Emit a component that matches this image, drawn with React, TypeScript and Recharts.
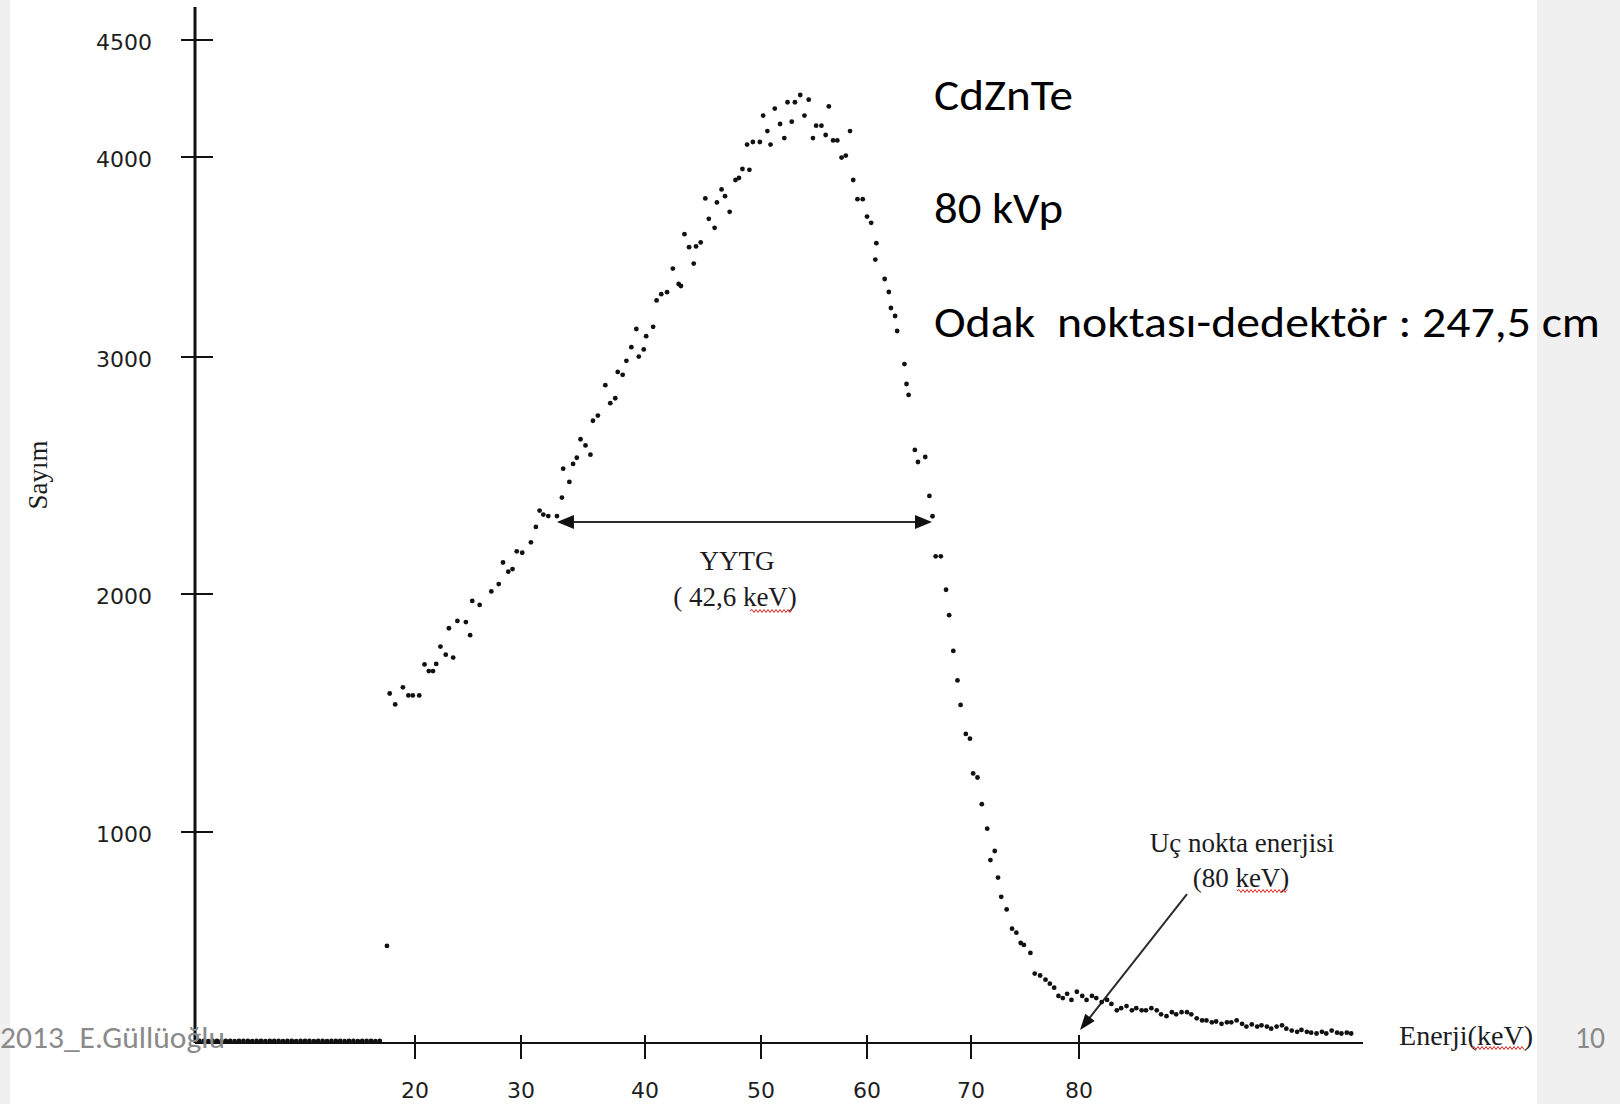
import React from 'react';
import { ScatterChart, Scatter, XAxis, YAxis, ReferenceLine } from 'recharts';

// ---------------- data ----------------
const BASE_KEV = [0.4, 0.8, 1.2, 1.6, 2.0, 2.4, 2.8, 3.2, 3.6, 4.0, 4.4, 4.8, 5.2, 5.6, 6.0, 6.4, 6.8, 7.2, 7.6, 8.0, 8.4, 8.8, 9.2, 9.6, 10.0, 10.4, 10.8, 11.2, 11.6, 12.0, 12.4, 12.8, 13.2, 13.6, 14.0, 14.4, 14.8, 15.2, 15.6, 16.0, 16.4, 16.8];
const BASE_COUNTS = [10, 10, 9, 10, 10, 9, 10, 10, 9, 10, 10, 10, 9, 10, 10, 9, 10, 10, 10, 9, 10, 10, 9, 10, 10, 10, 9, 10, 10, 9, 10, 10, 10, 9, 10, 10, 9, 10, 10, 10, 9, 10];

const RISE_KEV = [17.45, 17.7, 18.2, 18.9, 19.4, 19.8, 20.4, 20.9, 21.3, 21.7, 22.0, 22.4, 22.9, 23.2, 23.6, 24.0, 24.8, 25.2, 25.4, 26.1, 27.2, 27.9, 28.3, 28.8, 29.2, 29.6, 30.1, 30.8, 31.2, 31.5, 31.8, 32.2, 32.9, 33.3, 33.4, 33.9, 34.2, 34.5, 34.8, 35.2, 35.6, 35.8, 36.2, 36.8, 37.2, 37.6, 37.8, 38.2, 38.5, 38.9, 39.3, 39.5, 39.9, 40.1, 40.7, 41.0, 41.4, 41.9, 42.4, 42.9, 43.1, 43.4, 43.8, 44.2, 44.4, 44.8, 45.2, 45.5, 46.0, 46.2, 46.6, 46.9, 47.3, 47.8, 48.1, 48.4, 48.8, 49.0, 49.3, 49.9];
const RISE_COUNTS = [460, 1582, 1536, 1608, 1574, 1574, 1574, 1704, 1676, 1676, 1706, 1779, 1745, 1856, 1733, 1887, 1882, 1827, 1971, 1954, 2011, 2042, 2133, 2094, 2105, 2180, 2174, 2218, 2283, 2352, 2335, 2329, 2329, 2407, 2529, 2473, 2549, 2575, 2653, 2627, 2588, 2731, 2753, 2881, 2805, 2826, 2937, 2925, 2984, 3049, 3140, 3002, 3038, 3104, 3151, 3283, 3314, 3324, 3442, 3365, 3355, 3614, 3549, 3467, 3553, 3573, 3793, 3691, 3646, 3773, 3838, 3804, 3726, 3885, 3895, 3940, 4053, 3936, 4064, 4064];

const PEAK_KEV = [50.2, 50.6, 50.9, 51.3, 51.8, 52.2, 52.5, 52.9, 53.2, 53.7, 54.1, 54.5, 54.9, 55.2, 55.7, 56.1, 56.4, 56.8, 57.2, 57.6, 58.0, 58.4, 58.7, 59.1, 59.6, 60.0, 60.4, 60.8, 60.9];
const PEAK_COUNTS = [4177, 4111, 4053, 4207, 4141, 4081, 4234, 4151, 4234, 4265, 4177, 4245, 4081, 4134, 4134, 4094, 4216, 4071, 4071, 3997, 4006, 4111, 3885, 3789, 3789, 3702, 3671, 3487, 3569];

const FALL_KEV = [61.7, 62.1, 62.3, 62.7, 62.9, 63.6, 63.8, 64.0, 64.6, 64.9, 65.6, 66.0, 66.3, 66.6, 67.1, 67.6, 67.9, 68.3, 68.7, 69.0, 69.5, 69.9, 70.2, 70.6, 71.0, 71.5, 71.8, 72.2, 72.5, 72.8, 73.3, 73.8, 74.2, 74.6, 74.9, 75.5];
const FALL_COUNTS = [3390, 3325, 3245, 3205, 3130, 2970, 2886, 2840, 2608, 2557, 2578, 2414, 2328, 2159, 2159, 2018, 1911, 1761, 1637, 1534, 1412, 1392, 1246, 1229, 1117, 1014, 867, 910, 784, 693, 633, 542, 523, 474, 465, 427];

const TAIL_KEV = [75.9, 76.4, 76.9, 77.3, 77.7, 78.1, 78.5, 78.9, 79.3, 79.8, 80.3, 80.7, 81.2, 81.6, 82.1, 82.6, 83.0, 83.5, 83.9, 84.4, 84.9, 85.3, 85.8, 86.2, 86.7, 87.2, 87.6, 88.1, 88.6, 89.0, 89.5, 90.0, 90.4, 90.9, 91.4, 91.8, 92.3, 92.7, 93.2, 93.7, 94.1, 94.6, 95.1, 95.5, 96.0, 96.5, 96.9, 97.4, 97.8, 98.3, 98.8, 99.2, 99.7, 100.2, 100.6, 101.1, 101.5, 102.0, 102.5, 102.9, 103.4, 103.9, 104.3, 104.8, 105.2];
const TAIL_COUNTS = [329, 320, 300, 281, 262, 223, 213, 233, 204, 243, 223, 204, 223, 213, 194, 204, 185, 155, 165, 175, 155, 165, 155, 155, 165, 155, 136, 127, 146, 136, 146, 146, 136, 117, 107, 107, 98, 102, 91, 98, 98, 107, 91, 78, 88, 78, 84, 78, 68, 78, 84, 68, 59, 53, 62, 53, 49, 45, 53, 45, 59, 49, 45, 49, 45];

const X_TICKS = [20, 30, 40, 50, 60, 70, 80];
const Y_TICKS = [1000, 2000, 3000, 4000, 4500];

// FWHM arrow (keV range at its count level) and end-point arrow
const FWHM_FROM = 32.9;
const FWHM_TO = 66.25;
const FWHM_LEVEL = 2304;
const ENDPOINT_LABEL = { keV: 90.0, counts: 706 };
const ENDPOINT_TIP = { keV: 80.1, counts: 62 };

// ---------------- axis calibration of the scanned figure ----------------
// the original axes are not evenly spaced; map value -> offset along the axis
const X_CAL_KEV = [0, 20, 30, 40, 50, 60, 70, 80, 106.3];
const X_CAL_OFF = [0, 220, 326, 450, 566, 672, 776, 884, 1168];
const Y_CAL_CNT = [0, 1000, 2000, 3000, 4000, 4500, 4641];
const Y_CAL_OFF = [0, 211, 449, 686, 886, 1003, 1036];

function interp(v: number, xs: number[], ys: number[]) {
  let i = 0;
  while (i < xs.length - 2 && v > xs[i + 1]) i++;
  const t = (v - xs[i]) / (xs[i + 1] - xs[i]);
  return ys[i] + t * (ys[i + 1] - ys[i]);
}
const xPos = (k: number) => interp(k, X_CAL_KEV, X_CAL_OFF);
const yPos = (c: number) => interp(c, Y_CAL_CNT, Y_CAL_OFF);

const W = 1620;
const H = 1104;
const PLOT_LEFT = 195;
const PLOT_TOP = 7;
const PLOT_RIGHT = 1363;
const PLOT_BOTTOM = 1043;

function buildPoints() {
  const pts: { x: number; y: number }[] = [];
  const add = (ks: number[], cs: number[]) => ks.forEach((k, i) => pts.push({ x: xPos(k), y: yPos(cs[i]) }));
  add(BASE_KEV, BASE_COUNTS);
  add(RISE_KEV, RISE_COUNTS);
  add(PEAK_KEV, PEAK_COUNTS);
  add(FALL_KEV, FALL_COUNTS);
  add(TAIL_KEV, TAIL_COUNTS);
  return pts;
}
const POINTS = buildPoints();

const xTickVals = X_TICKS.map(xPos);
const yTickVals = Y_TICKS.map(yPos);

const AXIS_FONT = '"DejaVu Sans", Verdana, sans-serif';
const SERIF = '"Liberation Serif", "Times New Roman", serif';
const SLIDE_FONT = 'Carlito, Lato, "Open Sans", sans-serif';

function XTick(props: any) {
  const { x, payload } = props;
  const idx = xTickVals.findIndex((v) => Math.abs(v - payload.value) < 0.01);
  const label = idx >= 0 ? X_TICKS[idx] : '';
  return (
    <g>
      <line x1={x} x2={x} y1={PLOT_BOTTOM - 8} y2={PLOT_BOTTOM + 16} stroke="#111" strokeWidth={2} />
      <text x={x} y={1098} textAnchor="middle" fontFamily={AXIS_FONT} fontSize={22} fill="#1e1e1e">
        {label}
      </text>
    </g>
  );
}

function YTick(props: any) {
  const { y, payload } = props;
  const idx = yTickVals.findIndex((v) => Math.abs(v - payload.value) < 0.01);
  const label = idx >= 0 ? Y_TICKS[idx] : '';
  return (
    <g>
      <line x1={181} x2={213} y1={y} y2={y} stroke="#111" strokeWidth={2} />
      <text x={152} y={y + 10} textAnchor="end" fontFamily={AXIS_FONT} fontSize={22} fill="#1e1e1e">
        {label}
      </text>
    </g>
  );
}

function Dot(props: any) {
  const { cx, cy } = props;
  if (cx == null || cy == null) return <g />;
  return <circle cx={cx} cy={cy} r={2.4} fill="#111" />;
}

function makeArrow(both: boolean, head: number, half: number) {
  return (p: any) => {
    const x1 = Number(p.x1), y1 = Number(p.y1), x2 = Number(p.x2), y2 = Number(p.y2);
    const dx = x2 - x1, dy = y2 - y1;
    const len = Math.hypot(dx, dy) || 1;
    const ux = dx / len, uy = dy / len;
    const nx = -uy, ny = ux;
    const tri = (tx: number, ty: number, dirx: number, diry: number) => {
      const bx = tx - dirx * head, by = ty - diry * head;
      return `${tx},${ty} ${bx + nx * half},${by + ny * half} ${bx - nx * half},${by - ny * half}`;
    };
    const sx = both ? x1 + ux * (head - 2) : x1;
    const sy = both ? y1 + uy * (head - 2) : y1;
    return (
      <g>
        <line x1={sx} y1={sy} x2={x2 - ux * (head - 2)} y2={y2 - uy * (head - 2)} stroke="#2b2b2b" strokeWidth={2} />
        <polygon points={tri(x2, y2, ux, uy)} fill="#111" />
        {both && <polygon points={tri(x1, y1, -ux, -uy)} fill="#111" />}
      </g>
    );
  };
}

function Wavy({ x1, x2, y }: { x1: number; x2: number; y: number }) {
  let d = `M${x1},${y}`;
  let up = true;
  for (let x = x1 + 2; x <= x2; x += 2) {
    d += ` L${x},${up ? y - 1.5 : y + 1.5}`;
    up = !up;
  }
  return <path d={d} stroke="#e02020" strokeWidth={1} fill="none" />;
}

export default function App() {
  return (
    <div style={{ position: 'absolute', left: 0, top: 0, width: W, height: H, background: '#ffffff', overflow: 'hidden' }}>
      <div style={{ position: 'absolute', left: 0, top: 0, width: 10, height: H, background: '#f0f0f0' }} />
      <div style={{ position: 'absolute', left: 1537, top: 0, width: W - 1537, height: H, background: '#f0f0f0' }} />
      <div style={{ position: 'absolute', left: 0, top: 0 }}>
        <ScatterChart
          width={W}
          height={H}
          margin={{ top: PLOT_TOP, left: PLOT_LEFT - 60, right: W - PLOT_RIGHT, bottom: H - PLOT_BOTTOM - 30 }}
        >
          <XAxis
            type="number"
            dataKey="x"
            domain={[0, xPos(106.3)]}
            ticks={xTickVals}
            interval={0}
            height={30}
            allowDataOverflow
            axisLine={{ stroke: '#111', strokeWidth: 2 }}
            tickLine={false}
            tick={(p: any) => <XTick {...p} />}
          />
          <YAxis
            type="number"
            dataKey="y"
            domain={[0, yPos(4641)]}
            ticks={yTickVals}
            interval={0}
            width={60}
            allowDataOverflow
            axisLine={{ stroke: '#111', strokeWidth: 3 }}
            tickLine={false}
            tick={(p: any) => <YTick {...p} />}
          />
          <Scatter data={POINTS} isAnimationActive={false} shape={(p: any) => <Dot {...p} />} />
          <ReferenceLine
            segment={[
              { x: xPos(FWHM_FROM), y: yPos(FWHM_LEVEL) },
              { x: xPos(FWHM_TO), y: yPos(FWHM_LEVEL) },
            ]}
            ifOverflow="visible"
            shape={makeArrow(true, 17, 7)}
          />
          <ReferenceLine
            segment={[
              { x: xPos(ENDPOINT_LABEL.keV), y: yPos(ENDPOINT_LABEL.counts) },
              { x: xPos(ENDPOINT_TIP.keV), y: yPos(ENDPOINT_TIP.counts) },
            ]}
            ifOverflow="visible"
            shape={makeArrow(false, 16, 6)}
          />
        </ScatterChart>
      </div>
      <svg width={W} height={H} style={{ position: 'absolute', left: 0, top: 0, pointerEvents: 'none' }}>
        <text x={934} y={110} fontFamily={SLIDE_FONT} fontSize={44} fill="#000" textLength={139} lengthAdjust="spacingAndGlyphs">CdZnTe</text>
        <text x={934} y={223} fontFamily={SLIDE_FONT} fontSize={44} fill="#000" textLength={129} lengthAdjust="spacingAndGlyphs">80 kVp</text>
        <text x={934} y={337} fontFamily={SLIDE_FONT} fontSize={44} fill="#000" textLength={666} lengthAdjust="spacingAndGlyphs" style={{ whiteSpace: 'pre' }}>Odak  noktası-dedektör : 247,5 cm</text>

        <text x={737} y={570} textAnchor="middle" fontFamily={SERIF} fontSize={27} fill="#1b1b22">YYTG</text>
        <text x={735} y={606} textAnchor="middle" fontFamily={SERIF} fontSize={27} fill="#1b1b22">( 42,6 keV)</text>
        <Wavy x1={750} x2={792} y={611} />

        <text x={1242} y={852} textAnchor="middle" fontFamily={SERIF} fontSize={27} fill="#1b1b22">Uç nokta enerjisi</text>
        <text x={1241} y={887} textAnchor="middle" fontFamily={SERIF} fontSize={27} fill="#1b1b22">(80 keV)</text>
        <Wavy x1={1237} x2={1287} y={891} />

        <text x={1399} y={1045} fontFamily={SERIF} fontSize={27} fill="#1b1b22" textLength={134} lengthAdjust="spacingAndGlyphs">Enerji(keV)</text>
        <Wavy x1={1472} x2={1524} y={1048} />

        <text x={47} y={475} textAnchor="middle" fontFamily={SERIF} fontSize={27} fill="#1b1b22" transform="rotate(-90, 47, 475)">Sayım</text>

        <text x={0} y={1048} fontFamily={SLIDE_FONT} fontSize={30} fill="#8a8a8a" textLength={225} lengthAdjust="spacingAndGlyphs">2013_E.Güllüoğlu</text>
        <text x={1575} y={1048} fontFamily={SLIDE_FONT} fontSize={30} fill="#8a8a8a" textLength={30} lengthAdjust="spacingAndGlyphs">10</text>
      </svg>
    </div>
  );
}
